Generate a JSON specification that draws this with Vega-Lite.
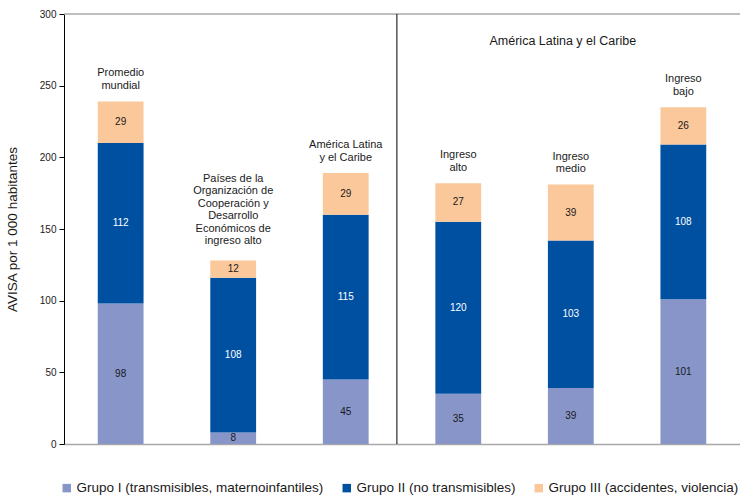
{
  "$schema": "https://vega.github.io/schema/vega-lite/v6.json",
  "width": 676,
  "height": 430,
  "autosize": {"type": "none"},
  "padding": {"left": 64, "top": 14, "right": 0, "bottom": 51},
  "background": "white",
  "config": {
    "font": "Liberation Sans",
    "view": {"stroke": null}
  },
  "data": {
    "values": [
      {"cat": "Promedio|mundial", "grupo": "Grupo I (transmisibles, maternoinfantiles)", "valor": 98},
      {"cat": "Promedio|mundial", "grupo": "Grupo II (no transmisibles)", "valor": 112},
      {"cat": "Promedio|mundial", "grupo": "Grupo III (accidentes, violencia)", "valor": 29},
      {"cat": "Países de la|Organización de|Cooperación y|Desarrollo|Económicos de|ingreso alto", "grupo": "Grupo I (transmisibles, maternoinfantiles)", "valor": 8},
      {"cat": "Países de la|Organización de|Cooperación y|Desarrollo|Económicos de|ingreso alto", "grupo": "Grupo II (no transmisibles)", "valor": 108},
      {"cat": "Países de la|Organización de|Cooperación y|Desarrollo|Económicos de|ingreso alto", "grupo": "Grupo III (accidentes, violencia)", "valor": 12},
      {"cat": "América Latina|y el Caribe", "grupo": "Grupo I (transmisibles, maternoinfantiles)", "valor": 45},
      {"cat": "América Latina|y el Caribe", "grupo": "Grupo II (no transmisibles)", "valor": 115},
      {"cat": "América Latina|y el Caribe", "grupo": "Grupo III (accidentes, violencia)", "valor": 29},
      {"cat": "Ingreso|alto", "grupo": "Grupo I (transmisibles, maternoinfantiles)", "valor": 35},
      {"cat": "Ingreso|alto", "grupo": "Grupo II (no transmisibles)", "valor": 120},
      {"cat": "Ingreso|alto", "grupo": "Grupo III (accidentes, violencia)", "valor": 27},
      {"cat": "Ingreso|medio", "grupo": "Grupo I (transmisibles, maternoinfantiles)", "valor": 39},
      {"cat": "Ingreso|medio", "grupo": "Grupo II (no transmisibles)", "valor": 103},
      {"cat": "Ingreso|medio", "grupo": "Grupo III (accidentes, violencia)", "valor": 39},
      {"cat": "Ingreso|bajo", "grupo": "Grupo I (transmisibles, maternoinfantiles)", "valor": 101},
      {"cat": "Ingreso|bajo", "grupo": "Grupo II (no transmisibles)", "valor": 108},
      {"cat": "Ingreso|bajo", "grupo": "Grupo III (accidentes, violencia)", "valor": 26}
    ]
  },
  "encoding": {
    "x": {
      "field": "cat",
      "type": "nominal",
      "sort": null,
      "scale": {"paddingInner": 0.593, "paddingOuter": 0.3},
      "axis": {
        "labels": false,
        "ticks": false,
        "title": null,
        "domainColor": "#a8a8a8",
        "domainWidth": 1.5
      }
    }
  },
  "layer": [
    {
      "mark": {"type": "bar"},
      "encoding": {
        "y": {
          "field": "valor",
          "type": "quantitative",
          "stack": "zero",
          "scale": {"domain": [0, 300], "nice": false},
          "axis": {
            "values": [0, 50, 100, 150, 200, 250, 300],
            "grid": false,
            "domainColor": "black",
            "domainWidth": 1,
            "tickColor": "black",
            "tickSize": 5,
            "labelFontSize": 10,
            "labelColor": "#1a1a1a",
            "labelPadding": 3,
            "title": "AVISA por 1 000 habitantes",
            "titleFontSize": 13.5,
            "titleFontWeight": "normal",
            "titleColor": "#1a1a1a",
            "titlePadding": 20
          }
        },
        "color": {
          "field": "grupo",
          "type": "nominal",
          "scale": {
            "domain": [
              "Grupo I (transmisibles, maternoinfantiles)",
              "Grupo II (no transmisibles)",
              "Grupo III (accidentes, violencia)"
            ],
            "range": ["#8795C9", "#0050A2", "#FAC89B"]
          },
          "legend": {
            "orient": "none",
            "legendX": -4,
            "legendY": 467,
            "direction": "horizontal",
            "title": null,
            "symbolType": "square",
            "symbolSize": 72,
            "symbolStrokeWidth": 0,
            "labelFontSize": 13.5,
            "labelColor": "#1a1a1a",
            "labelOffset": 3,
            "columnPadding": 16,
            "labelLimit": 400
          }
        },
        "order": {"field": "grupo", "sort": "ascending"}
      }
    },
    {
      "mark": {"type": "text", "fontSize": 10, "baseline": "middle"},
      "encoding": {
        "y": {"field": "valor", "type": "quantitative", "stack": "zero", "bandPosition": 0.5},
        "detail": {"field": "grupo"},
        "order": {"field": "grupo", "sort": "ascending"},
        "text": {"field": "valor", "type": "quantitative"},
        "color": {
          "condition": {"test": "datum.grupo === 'Grupo II (no transmisibles)'", "value": "white"},
          "value": "#1a1a1a"
        }
      }
    },
    {
      "transform": [
        {"aggregate": [{"op": "sum", "field": "valor", "as": "total"}], "groupby": ["cat"]},
        {"filter": "indexof(datum.cat, 'Países') !== 0"}
      ],
      "mark": {
        "type": "text",
        "fontSize": 11,
        "baseline": "bottom",
        "dy": -23,
        "lineBreak": "|",
        "lineHeight": 12.5,
        "color": "#1a1a1a"
      },
      "encoding": {
        "y": {"field": "total", "type": "quantitative"},
        "text": {"field": "cat"}
      }
    },
    {
      "transform": [
        {"aggregate": [{"op": "sum", "field": "valor", "as": "total"}], "groupby": ["cat"]},
        {"filter": "indexof(datum.cat, 'Países') === 0"}
      ],
      "mark": {
        "type": "text",
        "fontSize": 11,
        "baseline": "bottom",
        "dy": -77,
        "lineBreak": "|",
        "lineHeight": 12.5,
        "color": "#1a1a1a"
      },
      "encoding": {
        "y": {"field": "total", "type": "quantitative"},
        "text": {"field": "cat"}
      }
    },
    {
      "data": {"values": [{"valor": 300}]},
      "mark": {"type": "rule", "color": "#a8a8a8", "strokeWidth": 1.5},
      "encoding": {
        "x": null,
        "y": {"field": "valor", "type": "quantitative"}
      }
    },
    {
      "data": {"values": [{"cat": "Ingreso|alto"}]},
      "mark": {"type": "rule", "color": "black", "strokeWidth": 1},
      "encoding": {
        "x": {"field": "cat", "type": "nominal", "bandPosition": -0.84}
      }
    },
    {
      "data": {"values": [{"cat": "Ingreso|medio", "valor": 281, "rotulo": "América Latina y el Caribe"}]},
      "mark": {"type": "text", "fontSize": 12.5, "baseline": "middle", "color": "#1a1a1a", "dx": -8},
      "encoding": {
        "y": {"field": "valor", "type": "quantitative"},
        "text": {"field": "rotulo"}
      }
    }
  ]
}
